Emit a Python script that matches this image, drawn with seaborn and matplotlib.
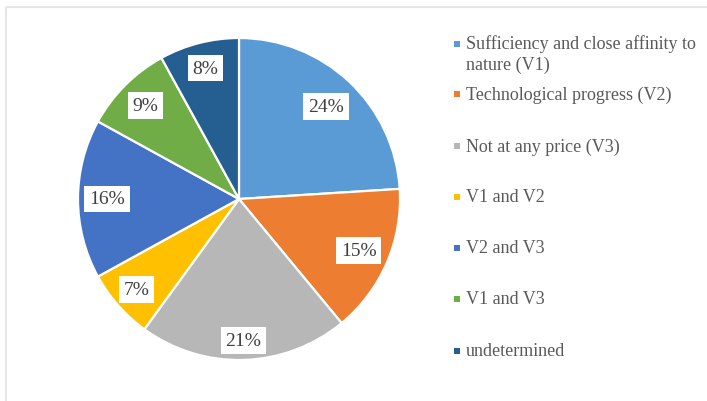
import numpy as np
import matplotlib
matplotlib.use("Agg")
import matplotlib.pyplot as plt
import seaborn as sns
from matplotlib.patches import Rectangle

# --- data ---
categories = [
    "Sufficiency and close affinity to\nnature (V1)",
    "Technological progress (V2)",
    "Not at any price (V3)",
    "V1 and V2",
    "V2 and V3",
    "V1 and V3",
    "undetermined",
]
shares = [24, 15, 21, 7, 16, 9, 8]
colors = ["#5B9BD5", "#ED7D31", "#B7B7B7", "#FFC000", "#4472C4", "#70AD47", "#255E91"]

# label radius per slice (fraction of pie radius), as placed in the original
label_dist = [0.79, 0.81, 0.88, 0.85, 0.82, 0.82, 0.84]

W, H = 707, 402
sns.set_theme(style="white")
plt.rcParams["font.family"] = ["Liberation Serif", "DejaVu Serif"]
palette = sns.color_palette(colors)

fig = plt.figure(figsize=(W / 100, H / 100), dpi=100)
fig.patch.set_facecolor("white")

# pie axes: centre (239, 200) px, radius 161 px
cx, cy, R = 239, 200, 161
lim = 1.04
side = 2 * R * lim
ax = fig.add_axes([(cx - side / 2) / W, (H - cy - side / 2) / H, side / W, side / H])

wedges, _ = ax.pie(
    shares, colors=palette, startangle=90, counterclock=False,
    wedgeprops=dict(edgecolor="white", linewidth=1.6),
)
ax.set_xlim(-lim, lim)
ax.set_ylim(-lim, lim)
ax.set_aspect("equal")
ax.axis("off")

total = sum(shares)
for w, v, d in zip(wedges, shares, label_dist):
    ang = np.deg2rad((w.theta1 + w.theta2) / 2)
    ax.text(d * np.cos(ang), d * np.sin(ang), f"{round(100 * v / total)}%",
            ha="center", va="center", fontsize=14, color="#404040",
            bbox=dict(boxstyle="square,pad=0.25", fc="white", ec="none"))

# legend drawn in pixel coordinates on an overlay axes
lg = fig.add_axes([0, 0, 1, 1])
lg.set_xlim(0, W)
lg.set_ylim(H, 0)
lg.axis("off")
lg.patch.set_alpha(0)

row_y = [45, 95, 147, 198, 249, 300, 352]
for lab, col, y in zip(categories, palette, row_y):
    lg.scatter([457], [y], marker="s", s=22, color=col, linewidths=0)
    if "\n" in lab:
        lg.text(466, y - 10, lab, ha="left", va="top", fontsize=13,
                color="#595959", linespacing=1.25)
    else:
        lg.text(466, y, lab, ha="left", va="center", fontsize=13, color="#595959")

# light frame of the chart area
lg.add_patch(Rectangle((6, 8), W + 10, H + 10, fill=False, ec="#E6E6E6", lw=1.5))

fig.savefig("out.png", dpi=100)
